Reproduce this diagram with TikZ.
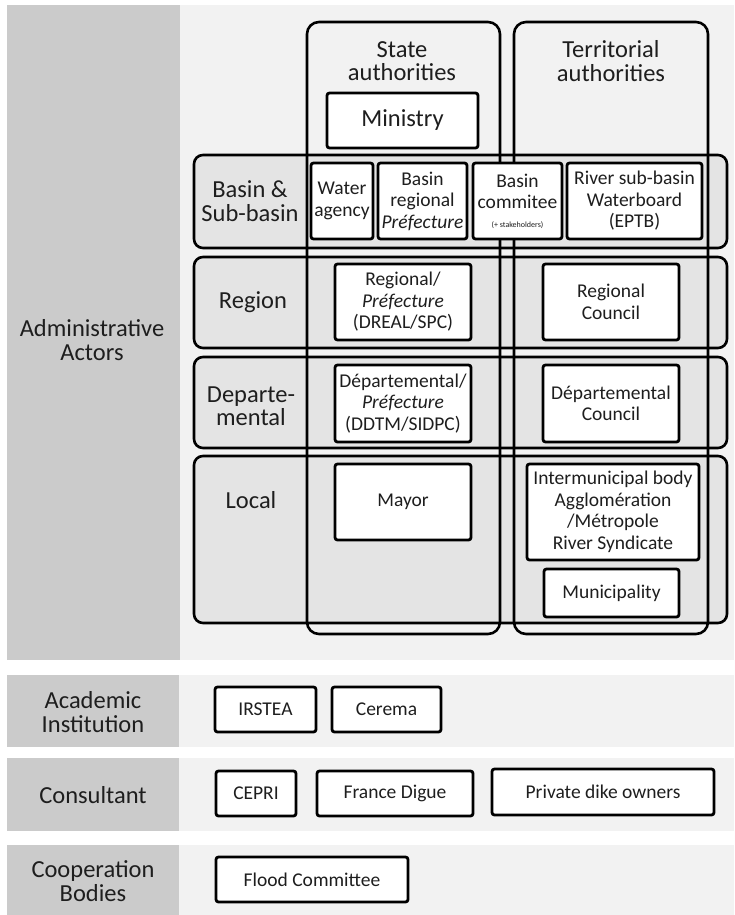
\documentclass[tikz,border=0pt]{standalone}
\usepackage{fontspec}
\setmainfont{Carlito}
\usepackage{tikz}

\definecolor{darkgrey}{HTML}{CBCBCB}
\definecolor{lightgrey}{HTML}{F2F2F2}
\definecolor{bandgrey}{HTML}{E4E4E4}
\definecolor{inkgrey}{HTML}{1E1E1E}

\newcommand{\bigfont}{\fontsize{24.5}{23.5}\selectfont}
\newcommand{\boxfont}{\fontsize{19.5}{21.5}\selectfont}
\newcommand{\tinyfont}{\fontsize{8}{9}\selectfont}

\begin{document}
\begin{tikzpicture}[x=1pt, y=-1pt]
			\tikzstyle{Dark}	= [fill=darkgrey, inner sep=0pt]
			\tikzstyle{Light}	= [fill=lightgrey, inner sep=0pt]
			\tikzstyle{Band}	= [draw, line width=2.6pt, rounded corners=9pt, fill=bandgrey, minimum width=533, inner sep=0pt]
			\tikzstyle{Authority}	= [draw, line width=2.6pt, rounded corners=12pt, minimum height=612, inner sep=0pt]
			\tikzstyle{Box}		= [draw, line width=2.8pt, rounded corners=2.5pt, fill=white, inner sep=0pt, align=center, text=inkgrey, font=\boxfont]
			\tikzstyle{Label}	= [align=center, text=inkgrey, font=\bigfont]

			\useasboundingbox (0,0) rectangle (734,915);

			% panels
			\fill [darkgrey] (7,5) rectangle (180,660);
			\fill [lightgrey] (180,5) rectangle (734,660);
			\foreach \n/\y/\h in {acad/711/72, cons/794.5/73, coop/880/70} {
				\node (d\n) at (93,\y) [Dark, minimum width=172, minimum height=\h] {};
				\node (l\n) at (456.5,\y) [Light, minimum width=555, minimum height=\h] {};
			}

			% levels
			\foreach \n/\y/\h in {basin/201.5/93, region/302.5/91, dept/402.5/91, local/539.5/167}
				\node (\n) at (460.5,\y) [Band, minimum height=\h] {};

			\node (state) at (403.5,328) [Authority, minimum width=193] {};
			\node (territ) at (611,328) [Authority, minimum width=194] {};

			% labels
			\node (admin) at (92,340) [Label] {Administrative\\Actors};
			\node (tstate) at (402,61) [Label] {State\\authorities};
			\node (tterrit) at (611,61) [Label] {Territorial\\authorities};
			\node (lbasin) at (250,201) [Label] {Basin \&\\Sub-basin};
			\node (lregion) at (253,302) [Label] {Region};
			\node (ldept) at (251,406) [Label] {Departe-\\mental};
			\node (llocal) at (251,500) [Label] {Local};
			\node (tacad) at (93,712) [Label] {Academic\\Institution};
			\node (tcons) at (93,795) [Label] {Consultant};
			\node (tcoop) at (93,881) [Label] {Cooperation\\Bodies};

			% boxes
			\node (ministry) at (402.5,120.5) [Box, minimum width=151, minimum height=55, font=\bigfont] {Ministry};
			\node (water) at (342,201) [Box, minimum width=62, minimum height=76] {Water\\agency};
			\node (basinpref) at (422.5,201) [Box, minimum width=89, minimum height=76] {Basin\\regional\\\textit{Préfecture}};
			\node (committee) at (517.5,201) [Box, minimum width=89, minimum height=76] {Basin\\commitee\\[-3pt]{\tinyfont(+ stakeholders)}};
			\node (eptb) at (634.5,201) [Box, minimum width=135, minimum height=76] {River sub-basin\\Waterboard\\(EPTB)};
			\node (dreal) at (403,302) [Box, minimum width=136, minimum height=76] {Regional/\\\textit{Préfecture}\\(DREAL/SPC)};
			\node (rcouncil) at (611,302) [Box, minimum width=136, minimum height=76] {Regional\\Council};
			\node (ddtm) at (403,403.5) [Box, minimum width=136, minimum height=77] {Départemental/\\\textit{Préfecture}\\(DDTM/SIDPC)};
			\node (dcouncil) at (611,403.5) [Box, minimum width=136, minimum height=77] {Départemental\\Council};
			\node (mayor) at (403,502) [Box, minimum width=136, minimum height=76] {Mayor};
			\node (inter) at (613,512) [Box, minimum width=172, minimum height=96] {Intermunicipal body\\Agglomération\\/Métropole\\River Syndicate};
			\node (munic) at (611.5,593) [Box, minimum width=135, minimum height=48] {Municipality};
			\node (irstea) at (265.5,709.5) [Box, minimum width=101, minimum height=45] {IRSTEA};
			\node (cerema) at (386.5,709.5) [Box, minimum width=109, minimum height=45] {Cerema};
			\node (cepri) at (256,793.5) [Box, minimum width=80, minimum height=45] {CEPRI};
			\node (digue) at (395,793.5) [Box, minimum width=156, minimum height=45] {France Digue};
			\node (private) at (603,792) [Box, minimum width=222, minimum height=46] {Private dike owners};
			\node (flood) at (312,879.5) [Box, minimum width=192, minimum height=45] {Flood Committee};
		\end{tikzpicture}
\end{document}
